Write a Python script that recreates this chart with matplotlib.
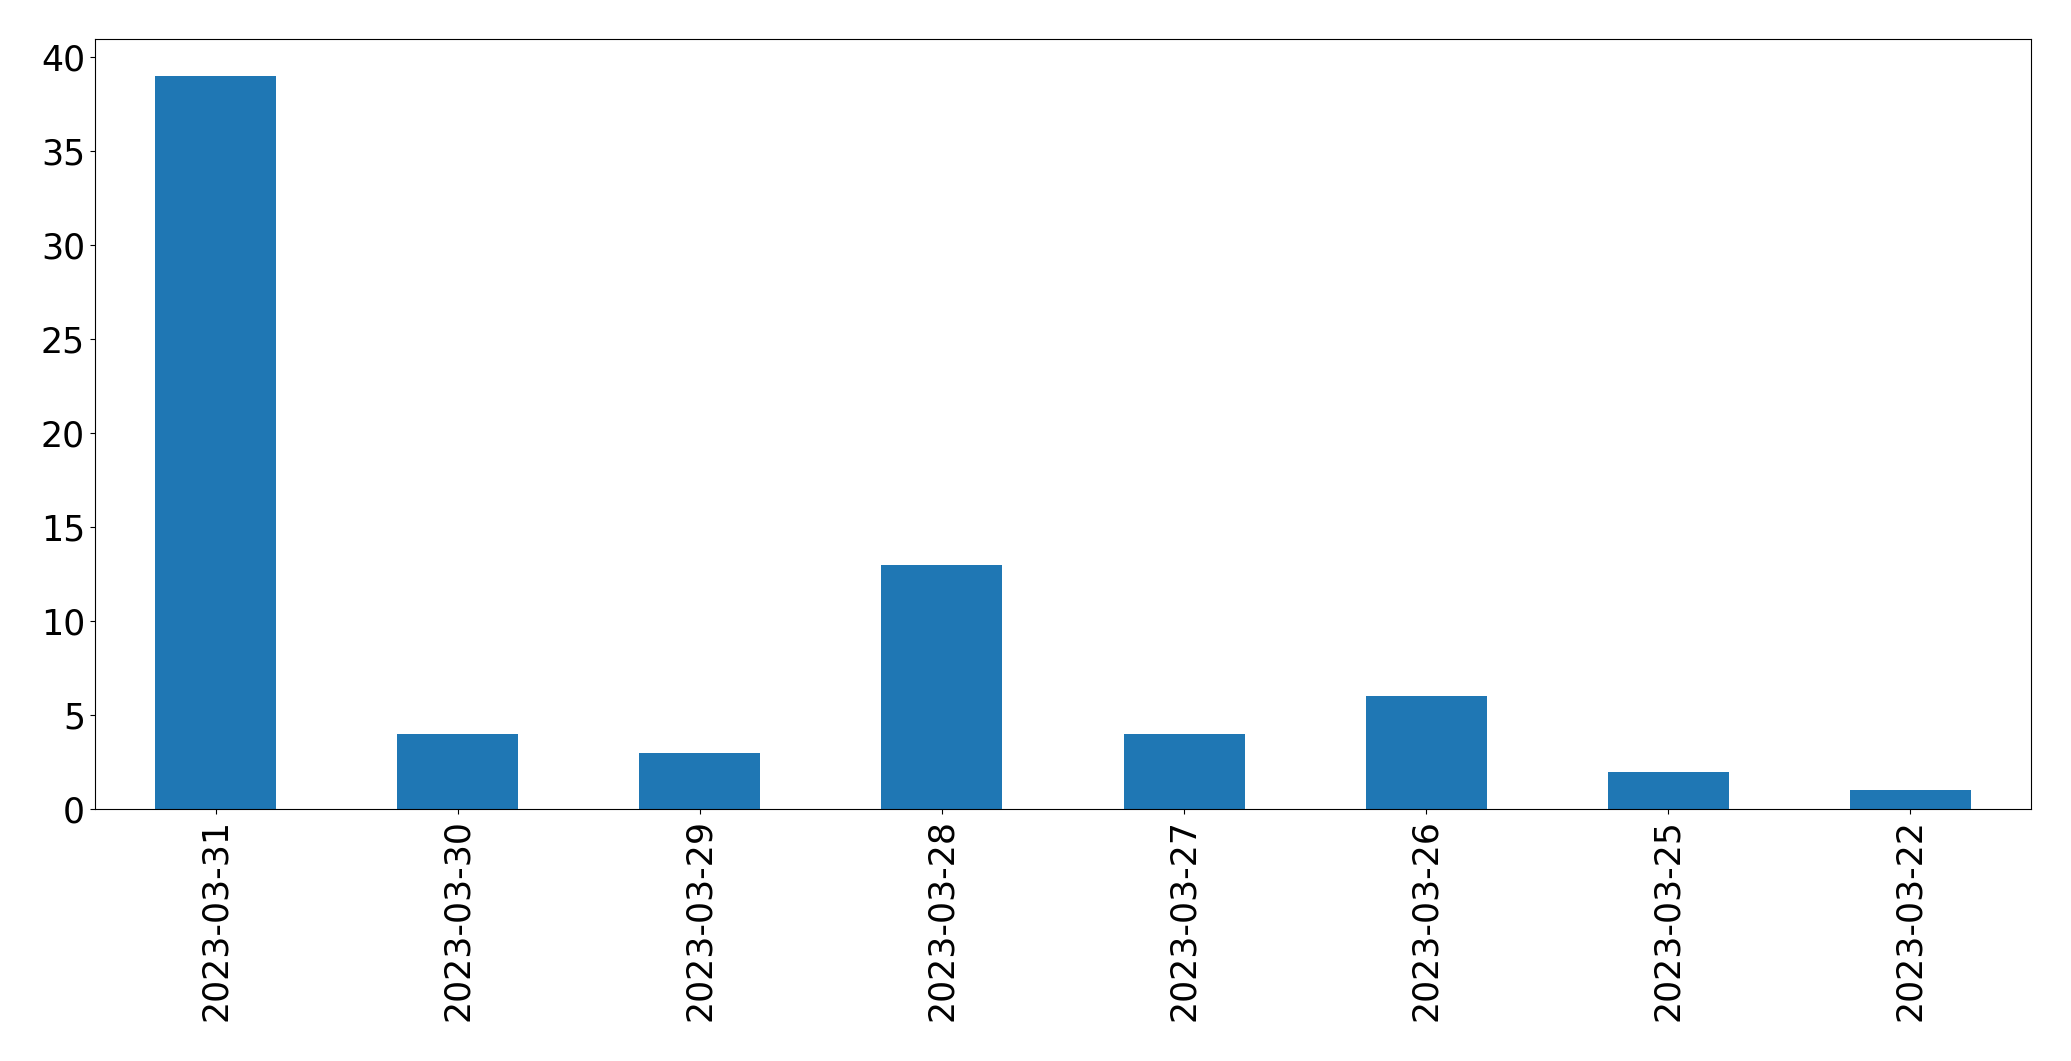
import matplotlib
matplotlib.use("Agg")
import matplotlib.pyplot as plt
import pandas as pd

dates = ["2023-03-31", "2023-03-30", "2023-03-29", "2023-03-28",
         "2023-03-27", "2023-03-26", "2023-03-25", "2023-03-22"]
counts = [39, 4, 3, 13, 4, 6, 2, 1]

s = pd.Series(counts, index=dates)

fig = plt.figure(figsize=(20.71, 10.61), dpi=100)
ax = fig.add_axes([94.7 / 2071, 1 - 809.3 / 1061, (2031.3 - 94.7) / 2071, (809.3 - 39.3) / 1061])
s.plot(kind="bar", ax=ax, color="#1f77b4")
ax.tick_params(axis="both", labelsize=25)

fig.savefig("out.png", dpi=100)
